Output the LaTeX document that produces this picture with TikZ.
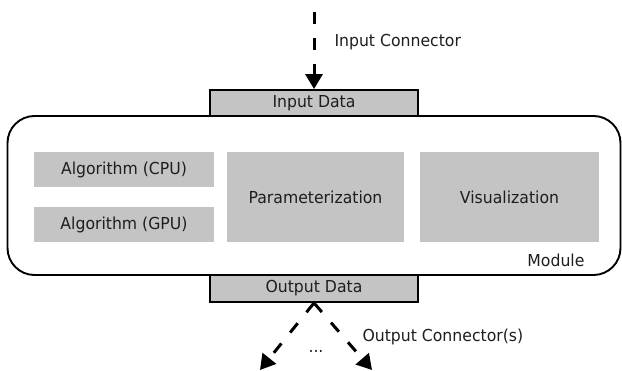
\documentclass[tikz,border=0pt]{standalone}
\usepackage{fontspec}
\setmainfont{DejaVu Sans}[FakeStretch=0.95]
\usetikzlibrary{arrows.meta}
\definecolor{boxgray}{RGB}{196,196,196}
\definecolor{txtgray}{RGB}{30,30,30}

\begin{document}
\begin{tikzpicture}[x=1pt,y=-1pt,
  every node/.style={font=\fontsize{16.5}{19}\selectfont,text=txtgray},
  module/.style={draw,line width=1.9pt,rounded corners=27pt,minimum width=613pt,minimum height=159pt},
  databox/.style={draw,line width=1.9pt,fill=boxgray,minimum width=208pt,minimum height=26pt,inner sep=0pt},
  part/.style={fill=boxgray,inner sep=0pt},
  conn/.style={line width=3pt,dash pattern=on 12pt off 14pt,-{Triangle[length=15pt,width=17pt]}}]
  \useasboundingbox (0,0) rectangle (622,371);
  \node[module] (module) at (314,195.5) {}; %モジュール
  \node[anchor=base east] (modlabel) at (588,267) {Module};
  \node[databox] (indata) at (314,103) {Input Data}; %入力
  \node[databox,minimum height=27pt] (outdata) at (314,288.5) {Output Data}; %出力
  \node[part,minimum width=180pt,minimum height=35pt] (cpu) at (124,170) {Algorithm (CPU)};
  \node[part,minimum width=180pt,minimum height=35pt] (gpu) at (124,224.5) {Algorithm (GPU)};
  \node[part,minimum width=177pt,minimum height=90pt] (param) at (315.5,197) {Parameterization};
  \node[part,minimum width=179pt,minimum height=90pt] (vis) at (509.5,197) {Visualization};
  \coordinate (intop) at (314,12);
  \coordinate (outleft) at (260,370);
  \coordinate (outright) at (372,370);
  \draw[conn] (intop) -- (indata.north); %入力コネクタ
  \node[anchor=west] (inlabel) at (331,42) {Input Connector};
  \draw[conn] (outdata.south) -- (outleft); %出力コネクタ
  \draw[conn] (outdata.south) -- (outright);
  \node (dots) at (316,351) {...};
  \node[anchor=west] (outlabel) at (359,337) {Output Connector(s)};
\end{tikzpicture}
\end{document}
